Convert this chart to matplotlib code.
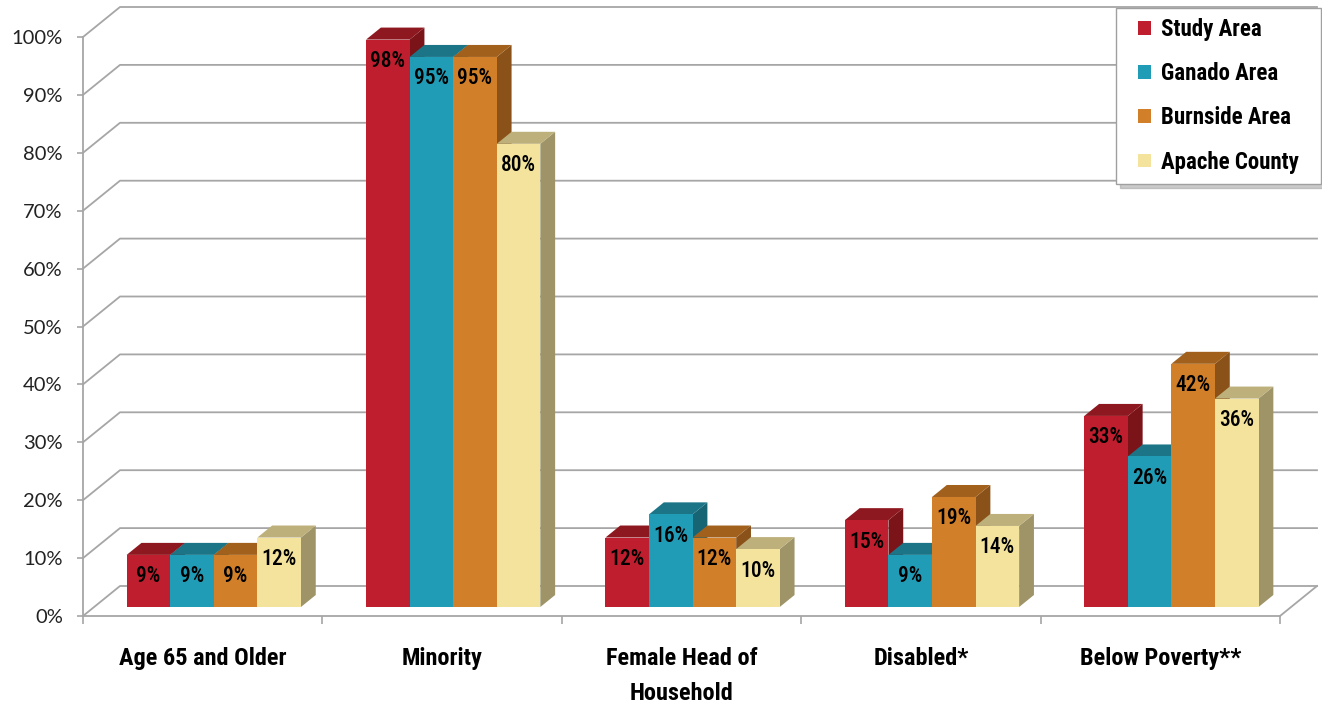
import matplotlib
matplotlib.use('Agg')
import matplotlib.pyplot as plt
from matplotlib.patches import Polygon, Patch
from matplotlib.path import Path

# chart data
categories = ['Age 65 and Older', 'Minority', 'Female Head of\nHousehold', 'Disabled*', 'Below Poverty**']
series = ['Study Area', 'Ganado Area', 'Burnside Area', 'Apache County']
study_area = [9, 98, 12, 15, 33]
ganado_area = [9, 95, 16, 9, 26]
burnside_area = [9, 95, 12, 19, 42]
apache_county = [12, 80, 10, 14, 36]
y_ticks = list(range(0, 101, 10))

values = [study_area, ganado_area, burnside_area, apache_county]
front_colors = ['#BE1E2D', '#219CB6', '#D17F28', '#F3E39D']
top_colors = ['#8E181F', '#1B7587', '#A1611D', '#BDB07B']
side_colors = ['#7A1419', '#166474', '#8A5219', '#9E9468']
grid_color = '#A6A6A6'

narrow = 'Roboto Condensed'

W, H = 1322, 706
fig = plt.figure(figsize=(W / 100, H / 100), dpi=100)
ax = fig.add_axes([83 / W, (H - 616) / H, (1280 - 83) / W, (616 - 37) / H])
ax.set_xlim(0, len(categories))
ax.set_ylim(0, 100)

# depth of the pseudo-3D box, in data units
DX = 37 / ((1280 - 83) / len(categories))
DY = 30 / ((616 - 37) / 100)

# walls: gridlines run along the left wall then the back wall
for t in y_ticks:
    ax.plot([0, DX, len(categories) + DX], [t, t + DY, t + DY],
            color=grid_color, lw=1.3, clip_on=False, zorder=1)
ax.plot([len(categories), len(categories) + DX], [0, DY],
        color=grid_color, lw=1.3, clip_on=False, zorder=1)

# bars
bar_w = 0.182
f0, f1 = 0.3, 0.7
ox, oy = f0 * DX, f0 * DY
bx, by = (f1 - f0) * DX, (f1 - f0) * DY
for i in range(len(categories)):
    start = i + 0.5 - 2 * bar_w
    for k, vals in enumerate(values):
        v = vals[i]
        xl = start + k * bar_w + ox
        xr = xl + bar_w
        yb, yt = oy, v + oy
        side = [(xr, yb), (xr + bx, yb + by), (xr + bx, yt + by), (xr, yt)]
        top = [(xl, yt), (xr, yt), (xr + bx, yt + by), (xl + bx, yt + by)]
        front = [(xl, yb), (xr, yb), (xr, yt), (xl, yt)]
        z = 3 + i * 10 + k
        ax.add_patch(Polygon(side, closed=True, fc=side_colors[k], ec='none', zorder=z, clip_on=False))
        ax.add_patch(Polygon(top, closed=True, fc=top_colors[k], ec='none', zorder=z, clip_on=False))
        ax.add_patch(Polygon(front, closed=True, fc=front_colors[k], ec='none', zorder=z, clip_on=False))
        ax.text((xl + xr) / 2, yt - 3.7, f'{v}%', ha='center', va='center',
                fontsize=15.5, family=narrow, fontweight=500, color='black', zorder=z + 0.5)

# axes styling
for s in ['top', 'right']:
    ax.spines[s].set_visible(False)
for s in ['left', 'bottom']:
    ax.spines[s].set_color(grid_color)
    ax.spines[s].set_linewidth(1.3)
ax.spines['bottom'].set_zorder(1)

ax.set_yticks(y_ticks)
ax.set_yticklabels([f'{t}%' for t in y_ticks], fontsize=14.5, family='Lato', color='#222222')
ax.tick_params(axis='y', length=4.5, color=grid_color, width=1.2, pad=10)

ax.set_xticks([i + 0.5 for i in range(len(categories))])
ax.set_xticklabels(categories, fontsize=17.5, family=narrow, fontweight='bold',
                   linespacing=1.65, va='top')
ax.set_xticks(range(len(categories) + 1), minor=True)
ax.tick_params(axis='x', which='major', length=0, pad=22.5)
ax.tick_params(axis='x', which='minor', length=6, color=grid_color, width=1.2)


def wide_box(x0, y0, width, height, mutation_size):
    """Legend frame with extra room on the left and right."""
    px = 0.52 * mutation_size
    return Path([(x0 - px, y0), (x0 + width + px, y0), (x0 + width + px, y0 + height),
                 (x0 - px, y0 + height), (x0 - px, y0)], closed=True)


handles = [Patch(facecolor=c, edgecolor='none') for c in front_colors]
leg = fig.legend(handles, series, loc='upper right', bbox_to_anchor=(1309 / W, 1 - 8 / H),
                 prop={'family': narrow, 'weight': 'bold', 'size': 16.5},
                 frameon=True, fancybox=False, edgecolor='#A0A0A0', framealpha=1,
                 shadow={'color': '#999999', 'alpha': 0.5, 'ox': 3, 'oy': -3},
                 borderpad=0.45, labelspacing=0.92, handlelength=0.55, handleheight=0.55,
                 handletextpad=0.45, borderaxespad=0)
leg.get_frame().set_boxstyle(wide_box)

fig.savefig('out.png', dpi=100)
